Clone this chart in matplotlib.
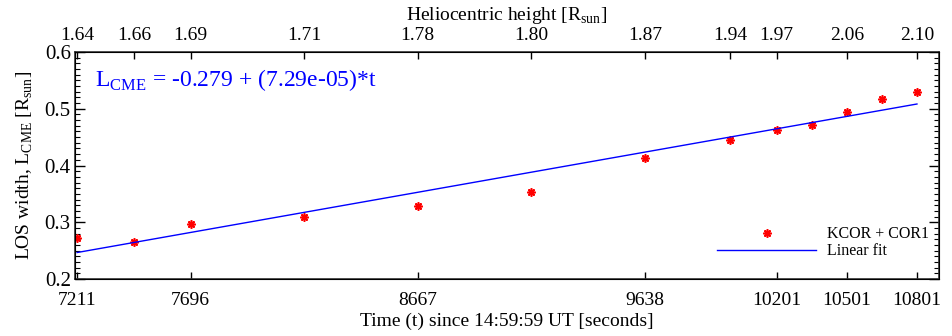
import numpy as np
import matplotlib
matplotlib.use("Agg")
import matplotlib.pyplot as plt
from matplotlib.ticker import MultipleLocator

plt.rcParams['font.family'] = ['Liberation Serif', 'DejaVu Serif']
plt.rcParams['mathtext.fontset'] = 'custom'
plt.rcParams['mathtext.rm'] = 'Liberation Serif'

# data
t_obs = [7211, 7454, 7696, 8182, 8667, 9152, 9638, 10001, 10201, 10351, 10501, 10651, 10801]
l_cme = [0.272, 0.265, 0.297, 0.309, 0.329, 0.353, 0.413, 0.445, 0.463, 0.472, 0.495, 0.517, 0.530]

bottom_ticks = [7211, 7696, 8667, 9638, 10201, 10501, 10801]
top_ticks = [7211, 7454, 7696, 8182, 8667, 9152, 9638, 10001, 10201, 10501, 10801]
top_labels = ['1.64', '1.66', '1.69', '1.71', '1.78', '1.80', '1.87', '1.94', '1.97', '2.06', '2.10']

fit_a = -0.279
fit_b = 7.29e-05

fig = plt.figure(figsize=(9.52, 3.36), dpi=100)
ax = fig.add_axes([0.0788, 0.1696, 0.9075, 0.6756])

t_fit = np.array([t_obs[0], t_obs[-1]])
ax.plot(t_obs, l_cme, linestyle='none', marker=(8, 2, 0), markersize=6,
        markeredgewidth=1.2, color='red', label='KCOR + COR1')
ax.plot(t_fit, fit_a + fit_b * t_fit, color='blue', linewidth=1.0, label='Linear fit')

ax.set_xlim(7202, 10895)
ax.set_ylim(0.2, 0.6)

ax.set_xticks(bottom_ticks)
ax.set_xticklabels([str(t) for t in bottom_ticks])
ax.yaxis.set_major_locator(MultipleLocator(0.1))
ax.yaxis.set_minor_locator(MultipleLocator(0.01))
ax.set_yticks([0.2, 0.3, 0.4, 0.5, 0.6])
ax.set_yticklabels(['0.2', '0.3', '0.4', '0.5', '0.6'])

ax.tick_params(axis='x', which='major', direction='in', length=5, width=1,
               labelsize=14, pad=9, top=False)
ax.tick_params(axis='y', which='major', direction='in', length=7, width=1,
               labelsize=15, pad=3, right=True)
ax.tick_params(axis='y', which='minor', direction='in', length=3.5, width=0.8, right=True)
ax.tick_params(axis='x', which='minor', bottom=False)

for s in ax.spines.values():
    s.set_linewidth(1.2)
    s.set_color('#333333')

ax_top = ax.twiny()
ax_top.set_xlim(ax.get_xlim())
ax_top.set_xticks(top_ticks)
ax_top.set_xticklabels(top_labels)
ax_top.tick_params(axis='x', direction='in', length=5, width=1, labelsize=14, pad=6)
ax_top.set_xlabel(r'Heliocentric height [R$_{\rm sun}$]', fontsize=14, labelpad=5)

ax.set_xlabel('Time (t) since 14:59:59 UT [seconds]', fontsize=14, labelpad=3)
ax.set_ylabel(r'LOS width, L$_{\rm CME}$ [R$_{\rm sun}$]', fontsize=14, labelpad=7)

ax.text(0.023, 0.848, r'L$_{\rm CME}$ = -0.279 + (7.29e-05)*t', transform=ax.transAxes,
        color='blue', fontsize=17)

ax.legend(loc='lower right', frameon=False, fontsize=11.5, numpoints=1,
          handlelength=6.2, handletextpad=0.7, labelspacing=0.05,
          borderaxespad=0.2, bbox_to_anchor=(1.0, 0.045))

fig.savefig('out.png', dpi=100)
